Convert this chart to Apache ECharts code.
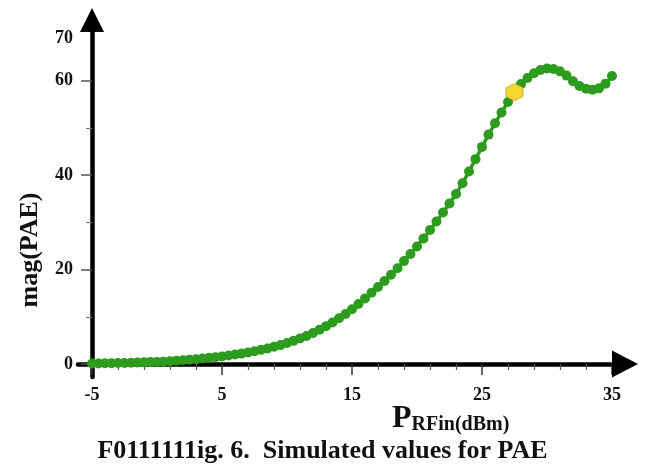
<!DOCTYPE html>
<html>
<head>
<meta charset="utf-8">
<script src="https://cdn.jsdelivr.net/npm/echarts@6/dist/echarts.min.js"></script>
<style>
  html, body { margin: 0; padding: 0; background: #fff; }
  #chart { width: 645px; height: 468px; }
</style>
</head>
<body>
<div id="chart"></div>
<script>
// input power (dBm), one marker every 0.5 dBm
const pin = [
  -5, -4.5, -4, -3.5, -3, -2.5, -2, -1.5, -1, -0.5,
  0, 0.5, 1, 1.5, 2, 2.5, 3, 3.5, 4, 4.5,
  5, 5.5, 6, 6.5, 7, 7.5, 8, 8.5, 9, 9.5,
  10, 10.5, 11, 11.5, 12, 12.5, 13, 13.5, 14, 14.5,
  15, 15.5, 16, 16.5, 17, 17.5, 18, 18.5, 19, 19.5,
  20, 20.5, 21, 21.5, 22, 22.5, 23, 23.5, 24, 24.5,
  25, 25.5, 26, 26.5, 27, 27.5, 28, 28.5, 29, 29.5,
  30, 30.5, 31, 31.5, 32, 32.5, 33, 33.5, 34, 34.5,
  35
];
// mag(PAE)
const pae = [
  0.1, 0.1, 0.15, 0.15, 0.2, 0.2, 0.25, 0.3, 0.35, 0.4,
  0.45, 0.5, 0.6, 0.7, 0.8, 0.9, 1.0, 1.15, 1.3, 1.45,
  1.6, 1.8, 2.0, 2.2, 2.45, 2.7, 3.0, 3.3, 3.65, 4.0,
  4.45, 4.9, 5.4, 5.95, 6.55, 7.25, 8.0, 8.8, 9.7, 10.6,
  11.6, 12.7, 13.9, 15.1, 16.3, 17.6, 18.9, 20.3, 21.8, 23.3,
  24.9, 26.6, 28.4, 30.2, 32.1, 34.0, 36.0, 38.3, 40.8, 43.4,
  46.0, 48.6, 51.0, 53.3, 55.5, 57.6, 59.3, 60.6, 61.6, 62.3,
  62.6, 62.5, 62.0, 61.1, 59.9, 58.9, 58.3, 58.1, 58.4, 59.4,
  61.0
];
// highlighted (yellow) point
const markPin = 27.5;

const xLabels = [-5, 5, 15, 25, 35];
const yLabels = [0, 20, 40, 60, 70];

const green = '#2d9c1e';
const serif = 'Liberation Serif';
const hexagon = 'path://M50,0 L93.3,25 L93.3,75 L50,100 L6.7,75 L6.7,25 Z';

const chart = echarts.init(document.getElementById('chart'));

const markIdx = pin.indexOf(markPin);

const hidden = { show: false };
const bareAxis = {
  axisLine: hidden, axisTick: hidden, axisLabel: hidden, splitLine: hidden
};
const labelFont = { fontFamily: serif, fontWeight: 'bold', fontSize: 18, color: '#111' };

const option = {
  backgroundColor: '#fff',
  animation: false,
  title: [
    {
      text: '{p|P}{s|RFin(dBm)}',
      left: 392,
      top: 403,
      padding: 0,
      textStyle: {
        rich: {
          p: { fontFamily: serif, fontWeight: 'bold', fontSize: 32, color: '#111', verticalAlign: 'bottom', lineHeight: 32 },
          s: { fontFamily: serif, fontWeight: 'bold', fontSize: 20, color: '#111', verticalAlign: 'bottom', lineHeight: 24 }
        }
      }
    },
    {
      text: 'F0111111ig. 6.  Simulated values for PAE',
      left: 'center',
      top: 438,
      padding: 0,
      textStyle: { fontFamily: serif, fontWeight: 'bold', fontSize: 26, color: '#111' }
    }
  ],
  graphic: [
    {
      type: 'text',
      x: 30,
      y: 250,
      rotation: Math.PI / 2,
      style: {
        text: 'mag(PAE)',
        font: 'bold 26px "Liberation Serif"',
        fill: '#111',
        align: 'center',
        verticalAlign: 'middle'
      }
    }
  ],
  grid: [
    // x axis line (reaches a bit left of the y axis)
    { left: 78, right: 20, top: 34, bottom: 104, outerBoundsMode: 'none' },
    // y axis line (reaches a bit below the x axis)
    { left: 92, width: 520, top: 20, bottom: 91, outerBoundsMode: 'none' },
    // plot area with ticks and labels
    { left: 92, width: 520, top: 33.6, bottom: 104, outerBoundsMode: 'none' }
  ],
  xAxis: [
    {
      gridIndex: 0, type: 'value', min: -6.077, max: 36,
      axisLine: { show: true, onZero: false, symbol: ['none', 'triangle'], symbolSize: [27, 26],
        lineStyle: { color: '#000', width: 4.5 } },
      axisTick: hidden, axisLabel: hidden, splitLine: hidden
    },
    Object.assign({ gridIndex: 1, type: 'value', min: -5, max: 35 }, bareAxis),
    {
      gridIndex: 2, type: 'value', min: -5, max: 35, interval: 10,
      axisLine: { show: false, onZero: false },
      axisTick: { show: true, length: 11, lineStyle: { color: '#333', width: 1.5 } },
      minorTick: { show: true, splitNumber: 5, length: 6, lineStyle: { color: '#555', width: 1.2 } },
      axisLabel: Object.assign({
        margin: 22,
        formatter: v => (xLabels.includes(v) ? String(v) : '')
      }, labelFont),
      splitLine: hidden
    }
  ],
  yAxis: [
    Object.assign({ gridIndex: 0, type: 'value', min: 0, max: 70 }, bareAxis),
    {
      gridIndex: 1, type: 'value', min: -2.75, max: 72.9,
      axisLine: { show: true, onZero: false, symbol: ['none', 'triangle'], symbolSize: [24, 24],
        lineStyle: { color: '#000', width: 4.5 } },
      axisTick: hidden, axisLabel: hidden, splitLine: hidden
    },
    {
      gridIndex: 2, type: 'value', min: 0, max: 70, interval: 10, position: 'left',
      axisLine: { show: false, onZero: false },
      axisTick: { show: true, length: 11, customValues: [0, 20, 40, 60], lineStyle: { color: '#555', width: 1.5 } },
      axisLabel: Object.assign({
        margin: 19, customValues: yLabels,
        // the top label sits a little under the arrow head
        formatter: v => (v === 70 ? '{top|70}' : yLabels.includes(v) ? String(v) : ''),
        rich: { top: Object.assign({ padding: [10, 0, 0, 0] }, labelFont) }
      }, labelFont),
      splitLine: hidden
    },
    {
      gridIndex: 2, type: 'value', min: 0, max: 70, interval: 10, position: 'left', offset: 0,
      axisLine: { show: false, onZero: false },
      axisTick: { show: true, length: 6, customValues: [10, 30, 50], lineStyle: { color: '#777', width: 1.2 } },
      axisLabel: hidden, splitLine: hidden
    }
  ],
  series: [
    {
      type: 'line',
      xAxisIndex: 2,
      yAxisIndex: 2,
      data: pin.map((x, i) => [x, pae[i]]),
      symbol: 'circle',
      symbolSize: 10,
      showAllSymbol: true,
      clip: false,
      lineStyle: { color: green, width: 3.5 },
      itemStyle: { color: green },
      z: 3
    },
    {
      type: 'scatter',
      xAxisIndex: 2,
      yAxisIndex: 2,
      data: [[pin[markIdx], pae[markIdx]]],
      symbol: hexagon,
      symbolSize: 17,
      clip: false,
      itemStyle: { color: '#f6d630', borderColor: '#d4b020', borderWidth: 1, opacity: 1 },
      z: 5
    }
  ]
};

chart.setOption(option);
</script>
</body>
</html>
